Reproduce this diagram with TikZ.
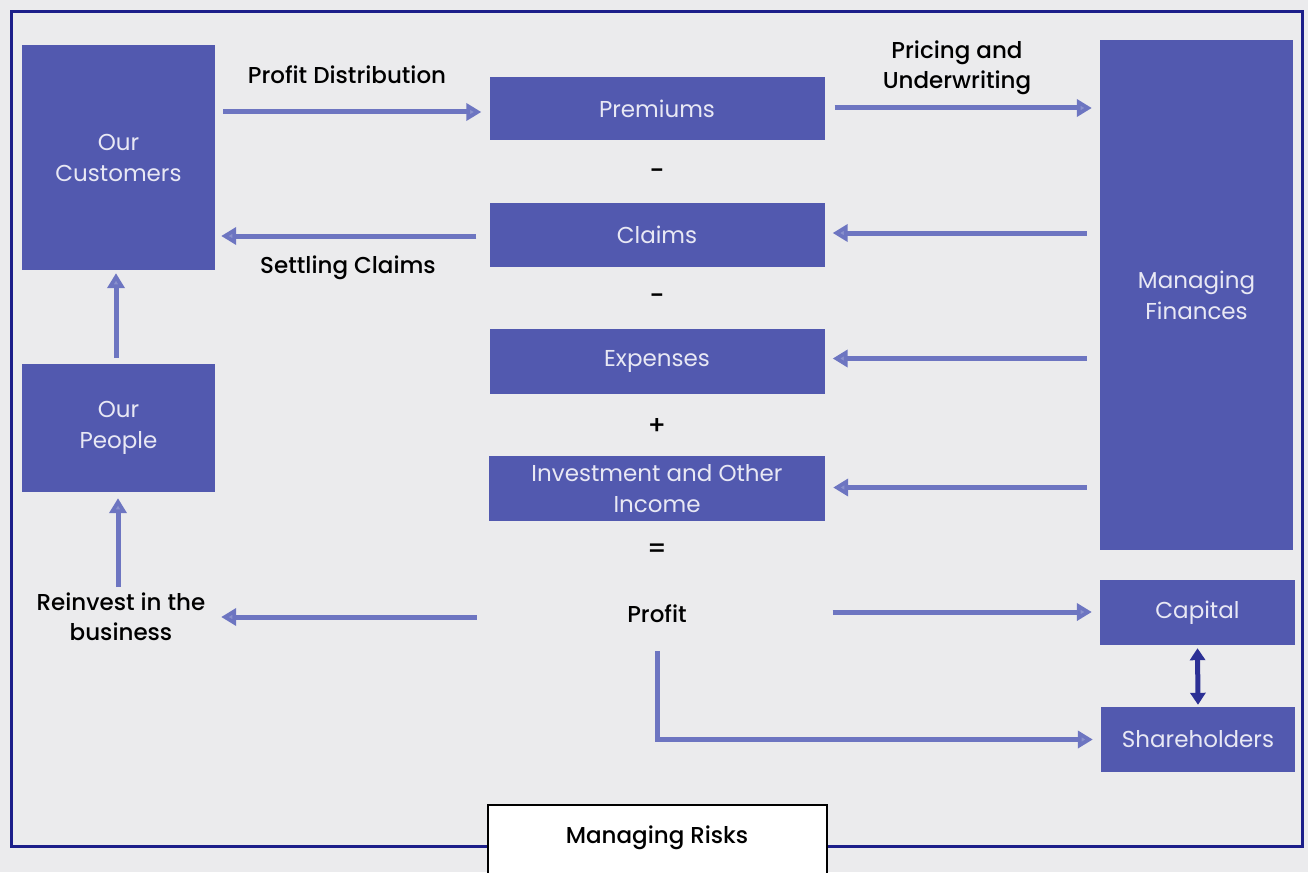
\documentclass[tikz,border=0pt]{standalone}
\usepackage{fontspec}
\setmainfont{Poppins}[BoldFont={Poppins Medium}]
\usetikzlibrary{arrows.meta,calc}
\definecolor{bgc}{HTML}{EBEBED}
\definecolor{boxc}{HTML}{5259AF}
\definecolor{arrc}{HTML}{6D75C1}
\definecolor{navy}{HTML}{1C1F8A}
\definecolor{boxtxt}{HTML}{E8E8F4}
\tikzset{
  fbox/.style={fill=boxc, draw=none, text=boxtxt, align=center, font=\fontsize{23}{31}\selectfont, inner sep=0pt},
  lbl/.style={text=black, align=center, font=\fontsize{23}{30}\selectfont\bfseries, inner sep=0pt},
  sgn/.style={text=black, font=\fontsize{26}{28}\selectfont\bfseries, inner sep=0pt},
  arr/.style={draw=arrc, line width=5pt, -{Triangle[width=17pt,length=15pt,fill=arrc!80]}},
  darr/.style={draw=navy!80!arrc, line width=5pt, {Triangle[width=15pt,length=12pt]}-{Triangle[width=15pt,length=12pt]}},
}
\begin{document}
\begin{tikzpicture}[x=1pt,y=-1pt]
\useasboundingbox (0,0) rectangle (1308,872);
\fill[bgc] (0,0) rectangle (1308,872);
% outer frame
\draw[navy, line width=3pt] (11,12) rectangle (1302,846);
% boxes
\node[fbox, minimum width=193, minimum height=225] (cust) at (118.5,157.5) {Our\\Customers};
\node[fbox, minimum width=193, minimum height=128] (people) at (118.5,428) {Our\\People};
\node[fbox, minimum width=335, minimum height=63] (prem) at (657,108.5) {Premiums};
\node[fbox, minimum width=335, minimum height=64] (claims) at (657,235) {Claims};
\node[fbox, minimum width=335, minimum height=65] (exp) at (657,361.5) {Expenses};
\node[fbox, minimum width=336, minimum height=65] (inv) at (657,488.5) {Investment and Other\\Income};
\node[fbox, minimum width=193, minimum height=510] (fin) at (1196.5,295) {Managing\\Finances};
\node[fbox, minimum width=195, minimum height=65] (cap) at (1197.5,612.5) {Capital};
\node[fbox, minimum width=194, minimum height=65] (share) at (1198,739.5) {Shareholders};
% signs
\node[sgn] (s1) at (657,174) {-};
\node[sgn] (s2) at (657,299) {-};
\node[sgn] (s3) at (657,426) {+};
\node[sgn] (s4) at (657,551) {=};
\node[lbl] (profit) at (657,614) {Profit};
% managing risks
\node[draw=black, line width=1.5pt, fill=white, minimum width=339, minimum height=80, anchor=north, inner sep=0pt] (risk) at (657.5,804) {};
\node[lbl] (risklbl) at (657,838) {Managing Risks};
% labels
\node[lbl] (pd) at (347,75) {Profit Distribution};
\node[lbl] (sc) at (348,268) {Settling Claims};
\node[lbl] (pu) at (957,68) {Pricing and\\Underwriting};
\node[lbl] (rb) at (121,617) {Reinvest in the\\business};
% coordinates for arrow ends
\coordinate (pdA) at ($(cust.east |- 0,112)+(8,0)$);
\coordinate (pdB) at ($(prem.west |- 0,112)+(-8,0)$);
\coordinate (scA) at ($(claims.west |- 0,236)+(-13,0)$);
\coordinate (scB) at ($(cust.east |- 0,236)+(6,0)$);
\coordinate (puA) at ($(prem.east |- 0,108)+(10,0)$);
\coordinate (puB) at ($(fin.west |- 0,108)+(-8,0)$);
\coordinate (f1) at ($(fin.west |- claims.east)+(-13,-2)$);
\coordinate (f1b) at ($(claims.east)+(8,-2)$);
\coordinate (f2) at ($(fin.west |- exp.east)+(-13,-3)$);
\coordinate (f2b) at ($(exp.east)+(8,-3)$);
\coordinate (f3) at ($(fin.west |- inv.east)+(-13,-1)$);
\coordinate (f3b) at ($(inv.east)+(8,-1)$);
\coordinate (pc) at ($(prem.east |- 0,612)+(8,0)$);
\coordinate (pcB) at ($(cap.west |- 0,612)+(-8,0)$);
\coordinate (rbA) at ($(inv.west |- 0,617)+(-12,0)$);
\coordinate (rbB) at ($(cust.east |- 0,617)+(6,0)$);
\coordinate (up1) at (118,587);
\coordinate (up1b) at ($(up1 |- people.south)+(0,6)$);
\coordinate (up2) at (116,358);
\coordinate (up2b) at ($(up2 |- cust.south)+(0,3)$);
\coordinate (ps) at (657,651);
\coordinate (psB) at ($(share.west)+(-8,0)$);
% arrows
\draw[arr] (pdA) -- (pdB);
\draw[arr] (scA) -- (scB);
\draw[arr] (puA) -- (puB);
\draw[arr] (f1) -- (f1b);
\draw[arr] (f2) -- (f2b);
\draw[arr] (f3) -- (f3b);
\draw[arr] (pc) -- (pcB);
\draw[arr] (rbA) -- (rbB);
\draw[arr] (up1) -- (up1b);
\draw[arr] (up2) -- (up2b);
\draw[arr] (ps) |- (psB);
\draw[darr] ($(cap.south)+(0,3)$) -- ($(share.north)+(0,-2)$);
\end{tikzpicture}
\end{document}
